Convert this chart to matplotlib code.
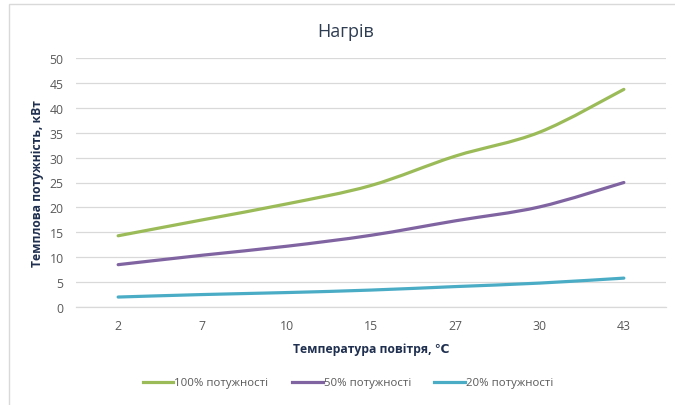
import numpy as np
import matplotlib
matplotlib.use("Agg")
import matplotlib.pyplot as plt
from matplotlib.path import Path
from matplotlib.patches import PathPatch, Rectangle
from matplotlib.lines import Line2D

plt.rcParams['font.family'] = ['Open Sans', 'DejaVu Sans']

# дані
temps = ["2", "7", "10", "15", "27", "30", "43"]
p100 = [14.3, 17.5, 20.7, 24.4, 30.3, 35.1, 43.7]
p50 = [8.5, 10.4, 12.2, 14.4, 17.3, 20.1, 25.0]
p20 = [2.0, 2.5, 2.9, 3.4, 4.1, 4.8, 5.8]

series = [
    ("100% потужності", p100, "#9BBB59"),
    ("50% потужності", p50, "#8064A2"),
    ("20% потужності", p20, "#4BACC6"),
]


def smooth_path(x, y, t=1/6):
    # згладжена лінія як у Excel (Catmull-Rom -> Bezier)
    pts = np.column_stack([x, y]).astype(float)
    n = len(pts)
    verts = [pts[0]]
    codes = [Path.MOVETO]
    for i in range(n - 1):
        p0 = pts[i - 1] if i > 0 else pts[i]
        p1 = pts[i]
        p2 = pts[i + 1]
        p3 = pts[i + 2] if i + 2 < n else pts[i + 1]
        c1 = p1 + (p2 - p0) * t
        c2 = p2 - (p3 - p1) * t
        verts += [c1, c2, p2]
        codes += [Path.CURVE4] * 3
    return Path(verts, codes)


fig = plt.figure(figsize=(6.75, 4.06), dpi=100)
ax = fig.add_axes([76 / 675, 1 - 308 / 406, 590 / 675, 249 / 406])

xs = np.arange(len(temps))
for name, vals, color in series:
    patch = PathPatch(smooth_path(xs, vals), facecolor="none", edgecolor=color,
                      lw=2.3, capstyle="round", joinstyle="round")
    ax.add_patch(patch)

ax.set_xlim(-0.5, len(temps) - 0.5)
ax.set_ylim(0, 50)
ax.set_yticks(range(0, 51, 5))
ax.set_xticks(xs)
ax.set_xticklabels(temps)
ax.grid(axis="y", color="#D9D9D9", lw=0.9)
ax.set_axisbelow(True)
for s in ["top", "right", "left"]:
    ax.spines[s].set_visible(False)
ax.spines["bottom"].set_color("#D9D9D9")
ax.spines["bottom"].set_linewidth(0.9)
ax.tick_params(length=0, labelsize=8.8, labelcolor="#595959")
ax.tick_params(axis="x", pad=9)
ax.tick_params(axis="y", pad=9)

ax.set_ylabel("Темплова потужність, кВт", fontsize=8.7, fontweight="bold",
              color="#1F2F4F", labelpad=4)
ax.set_xlabel("Температура повітря, ℃", fontsize=8.7, fontweight="bold",
              color="#1F2F4F", labelpad=7)

fig.text(346 / 675, 1 - 32 / 406, "Нагрів", ha="center", va="center",
         fontsize=13, color="#2E3D52")

handles = [Line2D([], [], color=c, lw=2.3) for _, _, c in series]
fig.legend(handles, [n for n, _, _ in series], loc="center",
           bbox_to_anchor=(348 / 675, 1 - 384 / 406), ncol=3, frameon=False,
           fontsize=8.2, labelcolor="#595959", handlelength=2.7,
           handletextpad=0.1, columnspacing=2.05)

# рамка діаграми
fig.patches.append(Rectangle((9 / 675, -0.01), 1.1, 1 - 5 / 406 + 0.01,
                             transform=fig.transFigure, fill=False,
                             edgecolor="#D9D9D9", lw=1))

fig.savefig("out.png", dpi=100)
